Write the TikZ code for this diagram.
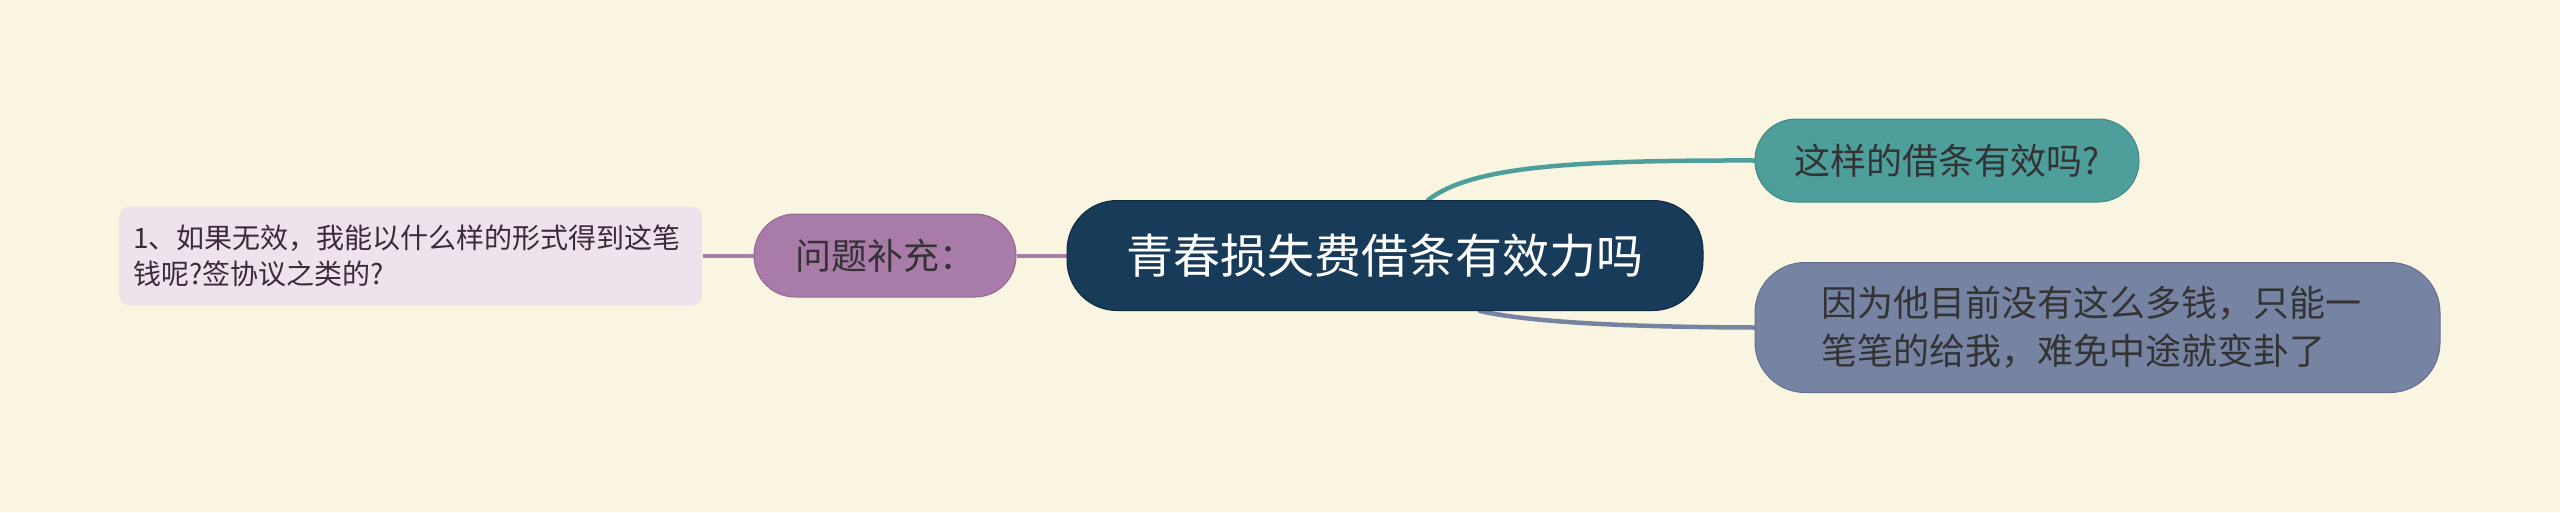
\documentclass[tikz,border=0pt]{standalone}
\usepackage{fontspec}
\setmainfont{Noto Sans CJK SC}
\pgfdeclarelayer{background}
\pgfsetlayers{background,main}
\definecolor{bgc}{HTML}{FAF5E0}
\definecolor{navy}{HTML}{173B58}
\definecolor{navyb}{HTML}{0E2A40}
\definecolor{teal}{HTML}{4E9E9B}
\definecolor{tealb}{HTML}{3F8A87}
\definecolor{bgray}{HTML}{7783A2}
\definecolor{bgrayb}{HTML}{66718F}
\definecolor{purp}{HTML}{A97BA8}
\definecolor{purpb}{HTML}{956894}
\definecolor{pale}{HTML}{EEE3EC}
\definecolor{txt}{HTML}{333333}
\definecolor{txtp}{HTML}{3B2A3B}
\tikzset{
  box/.style={inner sep=0pt, line width=1pt},
  conn/.style={line width=4.5pt, line cap=round},
}
\begin{document}
\begin{tikzpicture}[x=1pt,y=-1pt]
\begin{pgfonlayer}{background}
\fill[bgc] (0,0) rectangle (2560,512);
\end{pgfonlayer}
\useasboundingbox (0,0) rectangle (2560,512);
% nodes
\node[box, fill=navy, draw=navyb, rounded corners=50pt, minimum width=636pt, minimum height=110pt,
  text=white, font=\fontsize{47}{56}\selectfont] (c) at (1385,255.5) {青春损失费借条有效力吗};
\node[box, fill=purp, draw=purpb, rounded corners=41pt, minimum width=262pt, minimum height=83pt,
  text=txt, font=\fontsize{36}{44}\selectfont] (p) at (885,255.5) {问题补充：};
\node[box, fill=pale, rounded corners=11pt, minimum width=583pt, minimum height=99pt,
  text=txtp, text width=555pt, align=left, font=\fontsize{28}{36}\selectfont] (l) at (410.5,256)
  {1、如果无效，我能以什么样的形式得到这笔\\钱呢?签协议之类的?};
\node[box, fill=teal, draw=tealb, rounded corners=41pt, minimum width=384pt, minimum height=83pt,
  text=txt, font=\fontsize{36}{44}\selectfont] (t) at (1947,160.5) {这样的借条有效吗?};
\node[box, fill=bgray, draw=bgrayb, rounded corners=50pt, minimum width=685pt, minimum height=130pt,
  text=txt, text width=552pt, align=left, font=\fontsize{36}{48}\selectfont] (b) at (2097.5,327.5)
  {因为他目前没有这么多钱，只能一\\笔笔的给我，难免中途就变卦了};
% connectors
\begin{pgfonlayer}{background}
\draw[conn, teal] ([xshift=43pt]c.north) .. controls (1470,168) and (1560,160) .. (t.west);
\draw[conn, bgray] ([xshift=95pt]c.south) .. controls (1520,320) and (1600,327) .. (b.west);
\draw[conn, purp, line cap=butt] (l.east |- 0,256) -- (p.west |- 0,256);
\draw[conn, purp, line cap=butt] (p.east |- 0,256) -- (c.west |- 0,256);
\end{pgfonlayer}
\end{tikzpicture}
\end{document}
